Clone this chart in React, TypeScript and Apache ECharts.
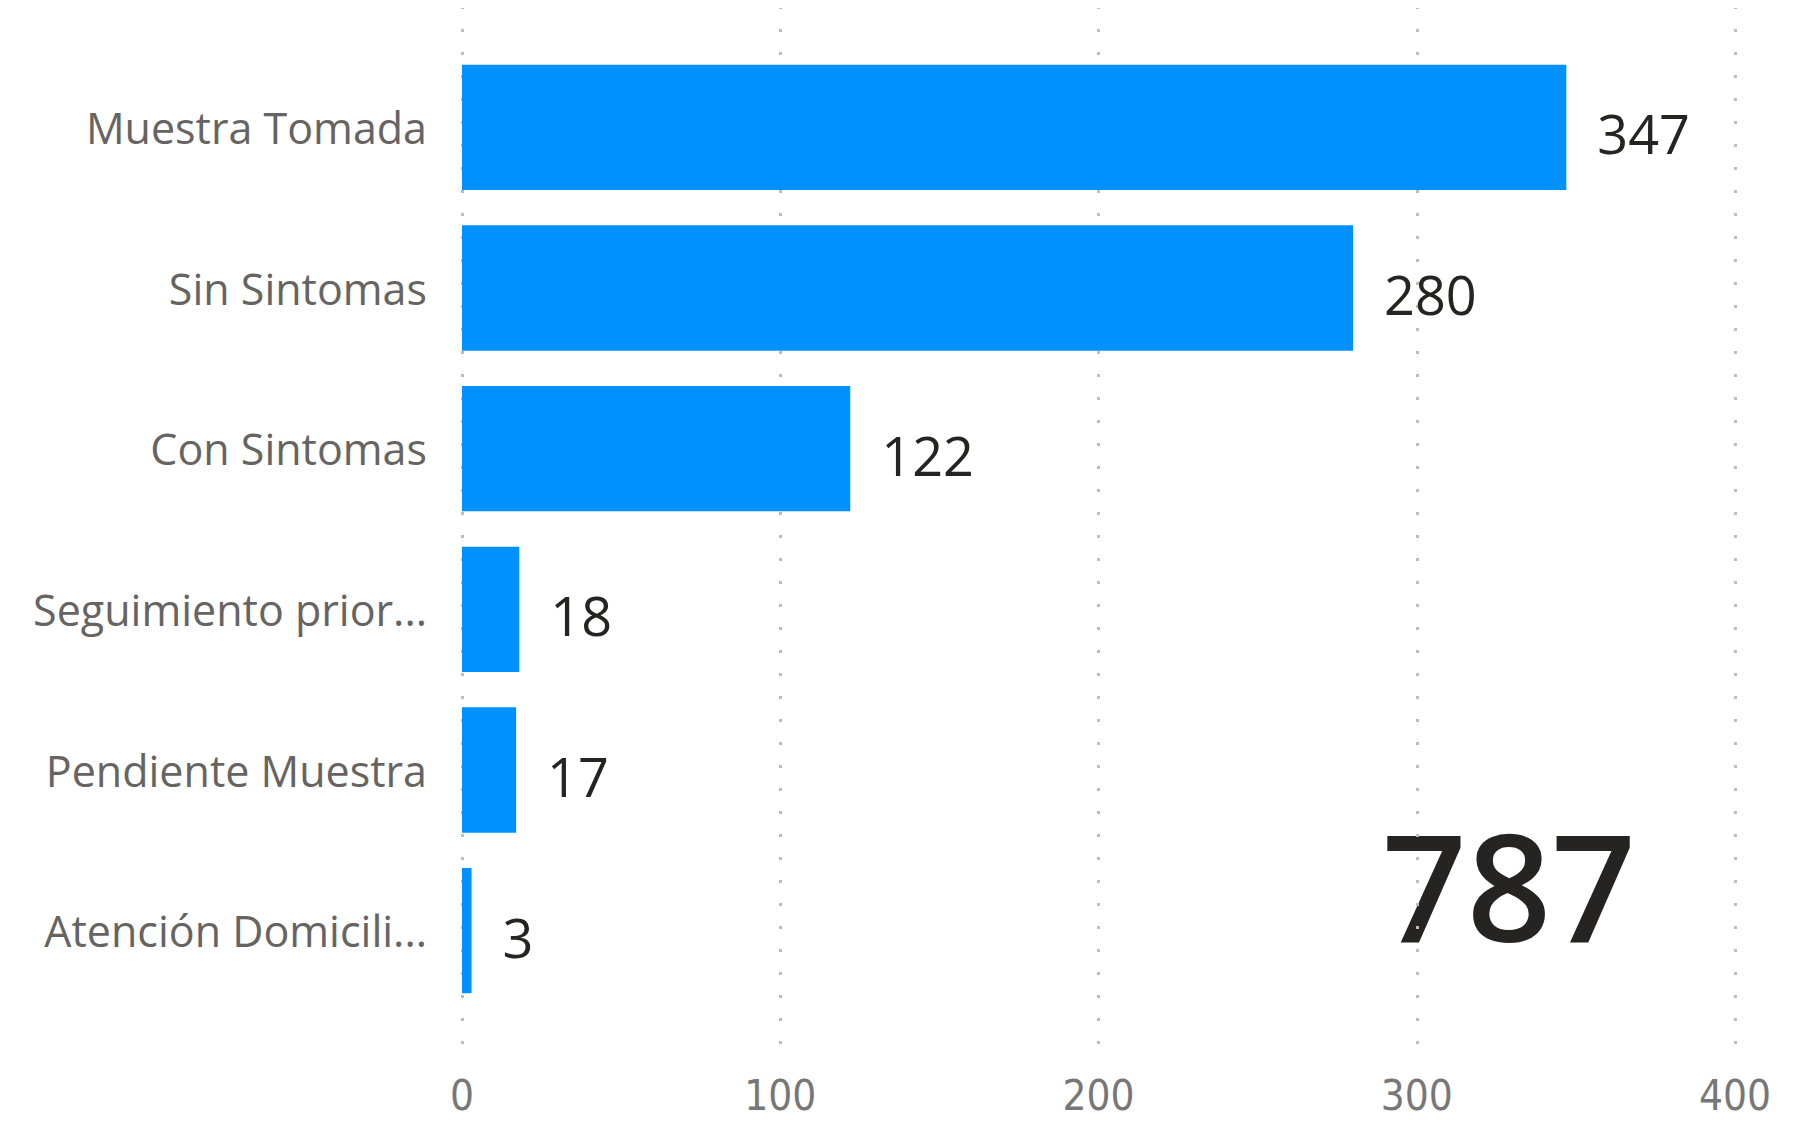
import React, { useEffect, useRef } from "react";
import * as echarts from "echarts";

const categories = [
  "Muestra Tomada",
  "Sin Sintomas",
  "Con Sintomas",
  "Seguimiento prior...",
  "Pendiente Muestra",
  "Atención Domicili...",
];
const values = [347, 280, 122, 18, 17, 3];
const totalLabel = "787";
const axisMin = 0;
const axisMax = 400;
const axisInterval = 100;

export default function App() {
  const ref = useRef<HTMLDivElement>(null);
  useEffect(() => {
    if (!ref.current) return;
    const chart = echarts.init(ref.current, undefined, { renderer: "svg" });
    const font = "'Segoe UI', 'Open Sans', 'Noto Sans', sans-serif";
    chart.setOption({
      animation: false,
      backgroundColor: "#ffffff",
      grid: [
        { left: 462, right: 60, top: 47, bottom: 112 },
        { left: 462, right: 60, top: 6, bottom: 62 },
      ],
      xAxis: [
        {
          gridIndex: 0,
          type: "value",
          min: axisMin,
          max: axisMax,
          interval: axisInterval,
          axisLabel: { show: false },
          axisLine: { show: false },
          axisTick: { show: false },
          splitLine: { show: false },
        },
        {
          gridIndex: 1,
          type: "value",
          min: axisMin,
          max: axisMax,
          interval: axisInterval,
          axisLine: { show: false },
          axisTick: { show: false },
          axisLabel: {
            color: "#777777",
            fontSize: 42,
            margin: 13,
            fontFamily: "'Liberation Sans Narrow', 'DejaVu Sans Condensed', sans-serif",
          },
          splitLine: {
            show: true,
            lineStyle: { color: "#bdbdbd", width: 3, type: [3, 20] },
          },
        },
      ],
      yAxis: [
        {
          gridIndex: 0,
          type: "category",
          inverse: true,
          data: categories,
          axisLine: { show: false },
          axisTick: { show: false },
          splitLine: { show: false },
          axisLabel: {
            color: "#666462",
            fontSize: 43,
            margin: 35,
            fontFamily: font,
          },
        },
        {
          gridIndex: 1,
          type: "value",
          show: false,
          min: 0,
          max: 1,
        },
      ],
      series: [
        {
          type: "bar",
          xAxisIndex: 0,
          yAxisIndex: 0,
          data: values,
          barCategoryGap: "22%",
          itemStyle: { color: "#0091ff" },
          label: {
            show: true,
            position: "right",
            distance: 31,
            offset: [0, 6],
            color: "#252423",
            fontSize: 54,
            fontFamily: font,
          },
        },
      ],
      graphic: [
        {
          type: "text",
          x: 1509,
          y: 884,
          style: {
            text: totalLabel,
            fill: "#252423",
            font: `600 148px ${font}`,
            align: "center",
            verticalAlign: "middle",
          },
        },
      ],
    });
    return () => chart.dispose();
  }, []);
  return <div ref={ref} style={{ width: 1795, height: 1123, margin: -8 }} />;
}
